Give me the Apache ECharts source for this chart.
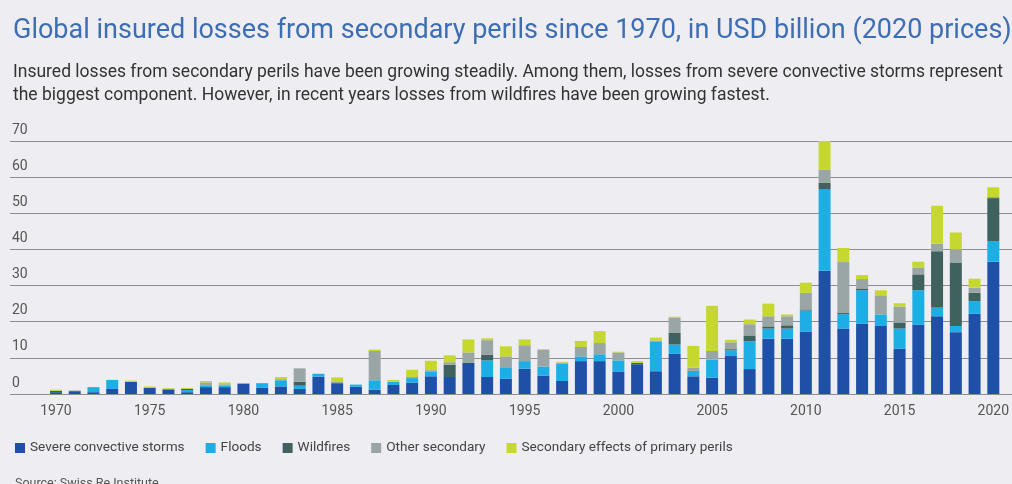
<!DOCTYPE html>
<html>
<head>
<meta charset="utf-8">
<script src="https://cdn.jsdelivr.net/npm/echarts@6/dist/echarts.min.js"></script>
<style>
html,body{margin:0;padding:0;background:#EEEEF2;}
#chart{width:1012px;height:484px;}
</style>
</head>
<body>
<div id="chart"></div>
<script>
var years = [];
for (var y = 1970; y <= 2020; y++) years.push(String(y));

var storms = [0.5,0.6,0.5,1.4,3.4,1.7,1.3,0.5,1.9,1.9,
  2.8,1.7,2.1,1.4,4.8,3.0,2.0,1.2,2.5,3.1,
  4.9,4.7,8.6,4.7,4.2,7.0,5.1,3.6,9.1,9.1,
  6.1,8.2,6.3,11.1,4.9,4.5,10.5,6.9,15.3,15.3,
  17.3,34.1,18.1,19.4,18.8,12.5,19.2,21.5,17.1,22.2,36.6];
var floods = [0,0,1.4,2.5,0,0,0,0.6,0.5,0.5,
  0,1.3,1.7,0.9,0.8,0,0.6,2.6,0.9,1.3,
  1.2,0,0,4.6,3.2,2.1,2.5,4.8,1.3,1.9,
  3.2,0,8.1,2.6,1.5,5.0,1.6,7.7,2.8,2.8,
  5.8,22.6,4.0,9.3,3.2,5.6,9.5,2.4,1.7,3.5,5.7];
var wildfires = [0.4,0.3,0,0,0,0,0,0.3,0,0,
  0.1,0,0,1.1,0,0,0,0,0,0,
  0,3.4,0,1.6,0,0,0,0,0,0,
  0,0.4,0,3.3,0,0,0.3,1.6,0.6,0.9,
  0.3,1.7,0.3,0.5,0,1.7,4.4,15.6,17.6,2.3,11.9];
var otherSecondary = [0,0,0,0,0,0,0,0,0.8,0.3,
  0,0,0.3,3.7,0,0.5,0,8.1,0,0.3,
  0.5,0.7,2.9,4.0,3.0,4.4,4.6,0.3,2.6,3.1,
  2.2,0,0.4,4.1,0.9,2.4,1.9,3.1,2.8,2.5,
  4.6,3.7,14.1,2.6,5.3,4.4,1.9,2.1,3.6,1.4,0.3];
var primaryEffects = [0.3,0,0,0,0.3,0.4,0.3,0.3,0.4,0.5,
  0,0,0.6,0,0,1.1,0,0.4,0.5,2.0,
  2.6,1.9,3.6,0.5,2.8,1.6,0.2,0.2,1.7,3.3,
  0.2,0.5,0.8,0.3,6.0,12.5,0.7,1.3,3.5,0.5,
  2.8,7.9,3.9,1.1,1.4,0.9,1.6,10.5,4.7,2.5,2.7];

var seriesNames = ['Severe convective storms','Floods','Wildfires','Other secondary','Secondary effects of primary perils'];
var seriesData = [storms, floods, wildfires, otherSecondary, primaryEffects];
var colors = ['#1F50A8','#1DAEE5','#3F625E','#9AA6A6','#C6D830'];

var chart = echarts.init(document.getElementById('chart'), null, {renderer:'canvas'});
var series = seriesNames.map(function(n,i){
  return {name:n,type:'bar',stack:'total',xAxisIndex:1,yAxisIndex:1,barWidth:12,
    itemStyle:{color:colors[i]},data:seriesData[i]};
});
chart.setOption({
  backgroundColor:'#EEEEF2',
  animation:false,
  color:colors,
  title:[
    {text:'Global insured losses from secondary perils since 1970, in USD billion (2020 prices)',
     left:8,top:13,textStyle:{fontFamily:'Roboto',fontSize:27,fontWeight:'normal',color:'#3D6DB3'}},
    {text:'Insured losses from secondary perils have been growing steadily. Among them, losses from severe convective storms represent\nthe biggest component. However, in recent years losses from wildfires have been growing fastest.',
     left:8,top:56,textStyle:{fontFamily:'Roboto',fontSize:17.5,fontWeight:'normal',color:'#333333',lineHeight:23}},
    {text:'Source: Swiss Re Institute',left:10,top:472,textStyle:{fontFamily:'Roboto',fontSize:12.5,fontWeight:'normal',color:'#555555'}}
  ],
  legend:{left:10,top:436,icon:'rect',itemWidth:10,itemHeight:10,itemGap:21,
    textStyle:{fontFamily:'Roboto',fontSize:13.6,color:'#444444'},data:seriesNames},
  grid:[
    {left:10,right:0,top:141,bottom:90},
    {left:46.6,right:4.1,top:141,bottom:90}
  ],
  xAxis:[
    {type:'category',gridIndex:0,data:years,show:false},
    {type:'category',gridIndex:1,data:years,
     axisLine:{show:false},axisTick:{show:false},
     axisLabel:{interval:4,margin:10,fontFamily:'Roboto',fontSize:14,color:'#555555'}}
  ],
  yAxis:[
    {type:'value',gridIndex:0,min:0,max:70,interval:10,
     axisLine:{show:false},axisTick:{show:false},
     splitLine:{lineStyle:{color:'#8E8E8E',width:1}},
     axisLabel:{inside:true,margin:2,verticalAlign:'bottom',padding:[0,0,4,0],fontFamily:'Roboto',fontSize:14,color:'#555555'}},
    {type:'value',gridIndex:1,min:0,max:70,interval:10,show:false,splitLine:{show:false}}
  ],
  series:series
});
</script>
</body>
</html>
